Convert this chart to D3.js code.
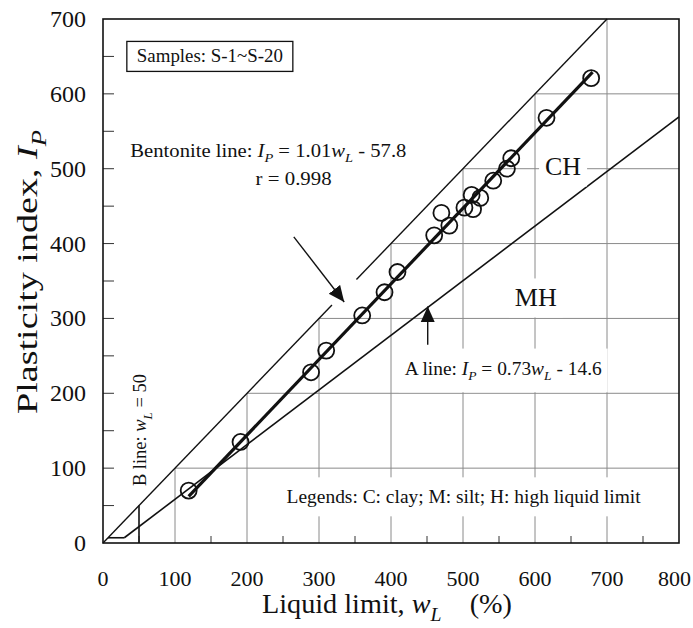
<!DOCTYPE html>
<html><head><meta charset="utf-8">
<script src="https://cdn.jsdelivr.net/npm/d3@7"></script>
<style>
body{margin:0;background:#fff}
text{font-family:"Liberation Serif","Times New Roman",serif;fill:#111}
</style>
</head><body>
<svg id="chart" width="693" height="628"></svg>
<script>
// ---------------- data ----------------
const wlTicks = [0,100,200,300,400,500,600,700,800];
const ipTicks = [0,100,200,300,400,500,600,700];
const wlMinor = [50,150,250,350,450,550,650,750];
const ipMinor = [50,100,150,200,250,300,350,400,450,500,550,600,650];
const gridWL = [100,200,300,400,500,600,700];
const gridIP = [100,200,300,400,500,600];

const sampleWL = [119,191,289,310,360,391,409,460,470,481,502,512,514,524,542,561,567,616,678];
const sampleIP = [70,135,228,257,304,335,362,411,441,424,448,465,446,461,484,500,514,568,621];

const bentoniteCoef = [1.01,-57.8];      // Ip = a*wL + b
const bentoniteRange = [119,680];
const aLineCoef = [0.73,-14.6];
const aLineRange = [29.6,800];
const upperSegments = [[0,318],[352,700]]; // Ip = wL
const clmlWL = [7,29.6], clmlIP = [7,7];
const bLineWL = [50,50], bLineIP = [0,50];

// ---------------- layout ----------------
const svg = d3.select("#chart");
const x = d3.scaleLinear().domain([0,800]).range([103,679]);
const y = d3.scaleLinear().domain([0,700]).range([543,19]);
const line = d3.line().x(d=>x(d[0])).y(d=>y(d[1]));

const gGrid = svg.append("g");
const gLines = svg.append("g");
const gText = svg.append("g");

// grid (only below the Ip = wL line)
gridWL.forEach(w=>{
  gGrid.append("path").attr("d", line([[w,0],[w,Math.min(w,700)]]))
    .attr("stroke","#8a8a8a").attr("stroke-width",1).attr("fill","none");
});
gridIP.forEach(p=>{
  gGrid.append("path").attr("d", line([[p,p],[800,p]]))
    .attr("stroke","#8a8a8a").attr("stroke-width",1).attr("fill","none");
});

// minor ticks
ipMinor.forEach(p=>{
  gLines.append("line").attr("x1",x(0)).attr("x2",x(0)+11).attr("y1",y(p)).attr("y2",y(p))
   .attr("stroke","#333").attr("stroke-width",1);
});
wlMinor.forEach(w=>{
  gLines.append("line").attr("x1",x(w)).attr("x2",x(w)).attr("y1",y(0)).attr("y2",y(0)-7)
   .attr("stroke","#333").attr("stroke-width",1);
});

// frame
gLines.append("rect").attr("x",x(0)).attr("y",y(700)).attr("width",x(800)-x(0)).attr("height",y(0)-y(700))
  .attr("fill","none").attr("stroke","#111").attr("stroke-width",1.6);

// upper line Ip = wL
upperSegments.forEach(s=>{
  gLines.append("path").attr("d", line([[s[0],s[0]],[s[1],s[1]]]))
   .attr("stroke","#111").attr("stroke-width",1.4).attr("fill","none");
});
gLines.append("path").attr("d", line(clmlWL.map((w,i)=>[w,clmlIP[i]])))
  .attr("stroke","#111").attr("stroke-width",1.6).attr("fill","none");
gLines.append("path").attr("d", line(bLineWL.map((w,i)=>[w,bLineIP[i]])))
  .attr("stroke","#111").attr("stroke-width",1.6).attr("fill","none");
gLines.append("path").attr("d", line(aLineRange.map(w=>[w,aLineCoef[0]*w+aLineCoef[1]])))
  .attr("stroke","#111").attr("stroke-width",1.6).attr("fill","none");
gLines.append("path").attr("d", line(bentoniteRange.map(w=>[w,bentoniteCoef[0]*w+bentoniteCoef[1]])))
  .attr("stroke","#111").attr("stroke-width",3.2).attr("fill","none");

// samples
gLines.selectAll("circle.s").data(sampleWL).enter().append("circle")
  .attr("cx",(d)=>x(d)).attr("cy",(d,i)=>y(sampleIP[i])).attr("r",8)
  .attr("fill","none").attr("stroke","#111").attr("stroke-width",1.8);

// arrows
const defs = svg.append("defs");
defs.append("marker").attr("id","ah").attr("viewBox","0 0 10 10").attr("refX",10).attr("refY",5)
  .attr("markerWidth",16).attr("markerHeight",16).attr("markerUnits","userSpaceOnUse").attr("orient","auto")
  .append("path").attr("d","M0,0.5 L10,5 L0,9.5 Z").attr("fill","#111");
const arrows = [ {from:[265,409], to:[335,322]}, {from:[451,265], to:[451,316]} ];
arrows.forEach(a=>{
  gLines.append("line").attr("x1",x(a.from[0])).attr("y1",y(a.from[1]))
    .attr("x2",x(a.to[0])).attr("y2",y(a.to[1])).attr("stroke","#111").attr("stroke-width",1.4)
    .attr("marker-end","url(#ah)");
});

// rich text helper
function rich(g, px, py, parts, size, opts={}){
  const t = g.append("text").attr("x",px).attr("y",py).attr("font-size",size)
     .attr("text-anchor",opts.anchor||"start").style("white-space","pre");
  if(opts.rotate) t.attr("transform",`rotate(-90,${px},${py})`);
  let shifted=false;
  parts.forEach(p=>{
    const ts = t.append("tspan").text(p.t);
    if(p.i) ts.attr("font-style","italic");
    if(p.sub){ ts.attr("font-size",size*0.7).attr("dy",size*0.3); shifted=true; }
    else if(shifted){ ts.attr("dy",-size*0.3); shifted=false; }
  });
  if(opts.len) t.attr("textLength",opts.len).attr("lengthAdjust","spacingAndGlyphs");
  if(opts.bg){
    const b = t.node().getBBox();
    const pad = opts.bg;
    g.insert("rect","text").attr("x",b.x-pad[0]).attr("y",b.y-pad[1]).attr("width",b.width+2*pad[0])
     .attr("height",b.height+2*pad[1]).attr("fill","#fff");
  }
  return t;
}

// tick labels
wlTicks.forEach(w=>{
  const t = gText.append("text").attr("x",x(w)).attr("y",586).attr("text-anchor","middle").attr("font-size",22).text(w);
  const b = t.node().getBBox();
  if(b.x + b.width > 691) t.attr("x", x(w) - (b.x + b.width - 691));
});
ipTicks.forEach(p=>{
  gText.append("text").attr("x",86).attr("y",y(p)+8).attr("text-anchor","end").attr("font-size",24).text(p);
});

// axis titles
rich(gText, 387, 613, [{t:"Liquid limit, "},{t:"w",i:true},{t:"L",i:true,sub:true},{t:"    (%)"}], 27, {anchor:"middle", len:250});
rich(gText, 37, 272, [{t:"Plasticity index, "},{t:"I",i:true},{t:"P",i:true,sub:true}], 29, {anchor:"middle", rotate:true, len:284});

// annotations (positions in data units)
const gAnn = svg.append("g");
{
  const t = gAnn.append("text").attr("x",x(47)).attr("y",y(642)).attr("font-size",18)
     .attr("textLength",146).attr("lengthAdjust","spacingAndGlyphs").text("Samples: S-1~S-20");
  const b = t.node().getBBox();
  gAnn.insert("rect","text").attr("x",b.x-10).attr("y",b.y-5).attr("width",b.width+20).attr("height",b.height+10)
    .attr("fill","#fff").attr("stroke","#111").attr("stroke-width",1.3);
}
rich(gAnn, x(38), y(516), [{t:"Bentonite line: "},{t:"I",i:true},{t:"P",i:true,sub:true},{t:" = 1.01"},{t:"w",i:true},{t:"L",i:true,sub:true},{t:" - 57.8"}], 19, {len:276});
rich(gAnn, x(212), y(478), [{t:"r = 0.998"}], 19, {len:76});
rich(gAnn, x(419), y(225), [{t:"A line: "},{t:"I",i:true},{t:"P",i:true,sub:true},{t:" = 0.73"},{t:"w",i:true},{t:"L",i:true,sub:true},{t:" - 14.6"}], 19, {bg:[6,9], len:197});
rich(gAnn, x(255), y(53), [{t:"Legends: C: clay; M: silt; H: high liquid limit"}], 19, {bg:[6,9], len:354});
rich(gAnn, x(614), y(491), [{t:"CH"}], 25, {bg:[6,6], len:36});
rich(gAnn, x(572), y(316), [{t:"MH"}], 25, {bg:[6,6], len:42});
rich(gAnn, x(60), y(76), [{t:"B line: "},{t:"w",i:true},{t:"L",i:true,sub:true},{t:" = 50"}], 18, {rotate:true, len:112});
</script>
</body></html>
